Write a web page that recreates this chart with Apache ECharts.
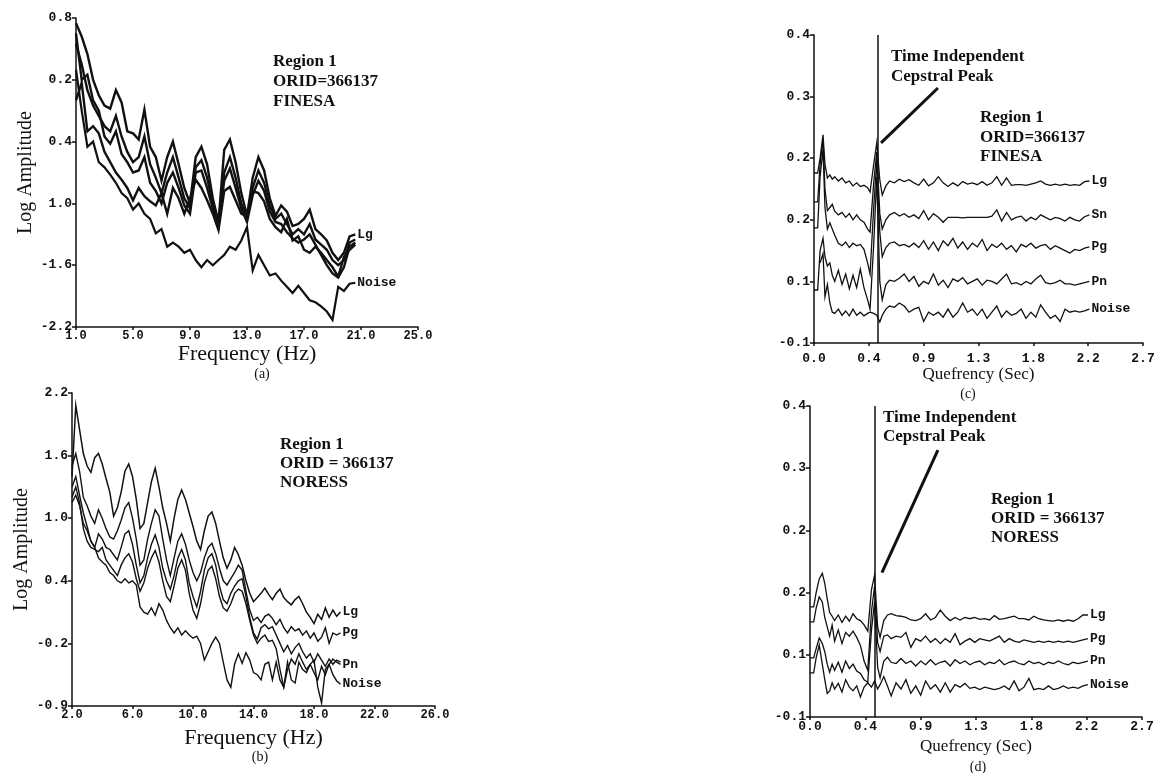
<!DOCTYPE html>
<html><head><meta charset="utf-8">
<script src="https://cdn.jsdelivr.net/npm/echarts@6/dist/echarts.min.js"></script>
<style>html,body{margin:0;padding:0;background:#fff}#c{width:1159px;height:773px}</style>
</head><body><div id="c"></div>
<script>
// ---------------- DATA ----------------
// Panel (a): FINESA spectra, Frequency (Hz) vs Log Amplitude
const freqA = [1.0,1.4,1.8,2.2,2.6,3.0,3.4,3.8,4.2,4.6,5.0,5.4,5.8,6.2,6.6,7.0,7.4,7.8,8.2,8.6,9.0,9.4,9.8,10.2,10.6,11.0,11.4,11.8,12.2,12.6,13.0,13.4,13.8,14.2,14.6,15.0,15.4,15.8,16.2,16.6,17.0,17.4,17.8,18.2,18.6,19.0,19.4,19.8,20.2,20.6];
const lgA = [0.75,0.62,0.45,0.20,0.05,-0.05,-0.08,0.10,-0.02,-0.30,-0.32,-0.38,-0.09,-0.45,-0.55,-0.78,-0.55,-0.40,-0.62,-0.85,-1.00,-0.55,-0.45,-0.62,-0.95,-1.18,-0.48,-0.38,-0.60,-0.90,-1.12,-0.75,-0.55,-0.68,-0.95,-1.12,-1.02,-1.08,-1.22,-1.20,-1.15,-1.06,-1.25,-1.30,-1.36,-1.48,-1.55,-1.48,-1.32,-1.30];
const snA = [0.55,0.35,0.10,-0.05,-0.15,-0.25,-0.30,-0.15,-0.35,-0.50,-0.60,-0.55,-0.35,-0.62,-0.75,-0.90,-0.70,-0.55,-0.75,-0.95,-1.05,-0.65,-0.58,-0.75,-1.00,-1.20,-0.70,-0.55,-0.75,-1.00,-1.15,-0.85,-0.68,-0.80,-1.02,-1.15,-1.10,-1.20,-1.30,-1.25,-1.30,-1.20,-1.35,-1.40,-1.45,-1.55,-1.60,-1.55,-1.38,-1.35];
const pgA = [0.65,0.20,0.25,0.00,-0.10,-0.35,-0.42,-0.30,-0.52,-0.60,-0.70,-0.68,-0.55,-0.80,-0.88,-1.00,-0.80,-0.70,-0.85,-1.02,-1.10,-0.70,-0.68,-0.85,-1.05,-1.22,-0.78,-0.66,-0.85,-1.05,-1.18,-0.92,-0.78,-0.88,-1.08,-1.18,-1.20,-1.28,-1.34,-1.38,-1.35,-1.30,-1.40,-1.50,-1.60,-1.68,-1.72,-1.62,-1.42,-1.38];
const pnA = [0.00,0.17,-0.30,-0.25,-0.32,-0.50,-0.60,-0.70,-0.77,-0.85,-0.97,-0.85,-0.93,-0.98,-1.02,-0.90,-1.10,-0.85,-0.95,-1.10,-0.95,-0.77,-0.85,-0.97,-1.10,-1.26,-0.88,-0.84,-0.97,-1.10,-1.13,-0.88,-0.90,-0.98,-1.15,-1.23,-1.28,-1.15,-1.36,-1.32,-1.45,-1.48,-1.42,-1.48,-1.55,-1.62,-1.71,-1.52,-1.45,-1.40];
const noiseA = [0.30,-0.10,-0.45,-0.40,-0.60,-0.65,-0.72,-0.80,-0.90,-0.95,-1.06,-1.00,-1.10,-1.15,-1.29,-1.25,-1.42,-1.38,-1.42,-1.48,-1.45,-1.55,-1.62,-1.55,-1.60,-1.55,-1.50,-1.42,-1.45,-1.36,-1.23,-1.65,-1.50,-1.60,-1.70,-1.68,-1.75,-1.81,-1.87,-1.80,-1.87,-1.94,-1.96,-2.00,-2.05,-2.13,-1.81,-1.85,-1.78,-1.77];
const xTicksA = [1,5,9,13,17,21,25];
const xLabelsA = ["1.0","5.0","9.0","13.0","17.0","21.0","25.0"];
const yTicksA = [-2.2,-1.6,-1.0,-0.4,0.2,0.8];
const yLabelsA = ["-2.2","-1.6","1.0","0.4","0.2","0.8"];

// Panel (b): NORESS spectra
const freqB = [2,2.25,2.5,2.75,3,3.25,3.5,3.75,4,4.25,4.5,4.75,5,5.25,5.5,5.75,6,6.25,6.5,6.75,7,7.25,7.5,7.75,8,8.25,8.5,8.75,9,9.25,9.5,9.75,10,10.25,10.5,10.75,11,11.25,11.5,11.75,12,12.25,12.5,12.75,13,13.25,13.5,13.75,14,14.25,14.5,14.75,15,15.25,15.5,15.75,16,16.25,16.5,16.75,17,17.25,17.5,17.75,18,18.25,18.5,18.75,19,19.25,19.5,19.75];
const lgB = [1.40,2.08,1.85,1.62,1.50,1.44,1.58,1.62,1.52,1.38,1.25,1.02,1.10,1.25,1.45,1.52,1.40,1.18,0.90,0.95,1.15,1.35,1.48,1.30,1.10,0.95,0.78,1.00,1.18,1.27,1.18,1.05,0.92,0.78,0.70,0.88,1.02,1.06,0.95,0.78,0.62,0.52,0.60,0.72,0.65,0.55,0.40,0.28,0.20,0.24,0.28,0.33,0.27,0.22,0.28,0.32,0.24,0.20,0.17,0.22,0.25,0.18,0.10,0.05,-0.01,0.08,0.03,0.14,0.05,0.12,0.06,0.10];
const pgB = [1.50,1.62,1.45,1.20,1.12,1.02,0.95,1.08,1.00,0.90,0.82,0.80,0.88,0.98,1.10,1.15,1.00,0.80,0.55,0.60,0.80,0.95,1.08,1.02,0.80,0.60,0.45,0.62,0.78,0.85,0.75,0.60,0.48,0.40,0.48,0.62,0.72,0.76,0.66,0.52,0.40,0.36,0.42,0.48,0.55,0.50,0.30,0.12,0.02,0.05,0.00,0.06,0.08,0.04,-0.02,0.03,-0.05,-0.10,-0.04,-0.08,-0.06,-0.12,-0.08,-0.15,-0.10,-0.18,-0.14,-0.05,-0.20,-0.10,-0.12,-0.10];
const snB = [1.30,1.40,1.22,1.05,0.92,0.78,0.72,0.85,0.80,0.72,0.70,0.65,0.60,0.72,0.85,0.88,0.75,0.55,0.38,0.45,0.62,0.75,0.84,0.72,0.52,0.40,0.32,0.45,0.62,0.70,0.60,0.38,0.25,0.15,0.30,0.50,0.62,0.66,0.55,0.35,0.22,0.18,0.28,0.35,0.40,0.42,0.25,0.05,-0.10,-0.16,-0.05,-0.02,-0.06,-0.04,-0.12,-0.20,-0.28,-0.22,-0.30,-0.24,-0.20,-0.28,-0.34,-0.30,-0.38,-0.30,-0.36,-0.42,-0.35,-0.40,-0.36,-0.38];
const pnB = [1.20,1.30,1.15,0.90,0.78,0.72,0.70,0.68,0.72,0.60,0.55,0.50,0.45,0.55,0.62,0.66,0.58,0.42,0.30,0.38,0.52,0.62,0.69,0.58,0.40,0.25,0.20,0.35,0.52,0.60,0.50,0.28,0.12,0.04,0.18,0.38,0.50,0.54,0.42,0.25,0.14,0.11,0.18,0.28,0.32,0.30,0.18,0.02,-0.12,-0.20,-0.15,-0.12,-0.18,-0.17,-0.25,-0.45,-0.62,-0.45,-0.35,-0.40,-0.30,-0.38,-0.45,-0.40,-0.48,-0.55,-0.42,-0.50,-0.40,-0.35,-0.38,-0.40];
const noiseB = [1.15,1.22,1.12,0.95,0.88,0.78,0.72,0.62,0.58,0.55,0.48,0.45,0.40,0.38,0.42,0.38,0.40,0.36,0.15,0.10,0.08,0.14,0.07,0.18,0.12,0.02,-0.05,-0.10,-0.05,-0.12,-0.08,-0.12,-0.15,-0.13,-0.20,-0.36,-0.28,-0.20,-0.14,-0.20,-0.38,-0.55,-0.62,-0.40,-0.30,-0.39,-0.29,-0.36,-0.48,-0.50,-0.55,-0.40,-0.38,-0.55,-0.38,-0.55,-0.62,-0.38,-0.55,-0.58,-0.38,-0.45,-0.48,-0.40,-0.36,-0.62,-0.77,-0.45,-0.40,-0.50,-0.56,-0.59];
const xTicksB = [2,6,10,14,18,22,26];
const xLabelsB = ["2.0","6.0","10.0","14.0","18.0","22.0","26.0"];
const yTicksB = [-0.8,-0.2,0.4,1.0,1.6,2.2];
const yLabelsB = ["-0.9","-0.2","0.4","1.0","1.6","2.2"];

// Panel (c): FINESA cepstra, Quefrency (Sec)
const quefC = [0,0.03,0.05,0.074,0.09,0.11,0.13,0.15,0.17,0.20,0.23,0.26,0.29,0.32,0.35,0.38,0.41,0.44,0.46,0.49,0.515,0.54,0.56,0.59,0.62,0.66,0.70,0.74,0.78,0.82,0.86,0.90,0.94,0.98,1.02,1.06,1.10,1.14,1.18,1.22,1.26,1.30,1.34,1.38,1.42,1.46,1.50,1.54,1.58,1.62,1.66,1.70,1.74,1.78,1.82,1.86,1.90,1.94,1.98,2.02,2.06,2.10,2.14,2.18,2.22,2.26];
const lgC = [0.176,0.176,0.20,0.238,0.19,0.168,0.173,0.166,0.170,0.163,0.168,0.160,0.163,0.155,0.160,0.154,0.156,0.152,0.145,0.19,0.225,0.165,0.140,0.155,0.163,0.160,0.166,0.162,0.165,0.160,0.156,0.166,0.155,0.160,0.170,0.160,0.154,0.160,0.155,0.162,0.158,0.160,0.157,0.162,0.156,0.160,0.170,0.156,0.168,0.156,0.157,0.157,0.156,0.158,0.160,0.163,0.158,0.156,0.158,0.156,0.158,0.156,0.157,0.156,0.162,0.163];
const snC = [0.129,0.129,0.19,0.232,0.15,0.115,0.12,0.125,0.114,0.108,0.112,0.104,0.110,0.100,0.108,0.100,0.096,0.085,0.080,0.16,0.21,0.11,0.085,0.10,0.108,0.112,0.106,0.110,0.104,0.108,0.102,0.115,0.100,0.110,0.104,0.096,0.104,0.104,0.104,0.103,0.104,0.104,0.104,0.104,0.104,0.106,0.116,0.098,0.112,0.100,0.104,0.106,0.098,0.104,0.100,0.108,0.104,0.100,0.104,0.102,0.098,0.104,0.100,0.098,0.105,0.108];
const pgC = [0.087,0.087,0.17,0.215,0.12,0.085,0.095,0.085,0.075,0.062,0.058,0.064,0.055,0.062,0.058,0.060,0.052,0.030,0.012,0.12,0.195,0.08,0.040,0.055,0.062,0.064,0.058,0.060,0.056,0.062,0.055,0.066,0.052,0.064,0.050,0.066,0.058,0.070,0.054,0.064,0.052,0.062,0.056,0.068,0.050,0.060,0.055,0.062,0.052,0.058,0.048,0.060,0.056,0.062,0.054,0.058,0.060,0.052,0.058,0.054,0.050,0.046,0.052,0.050,0.054,0.056];
const pnC = [-0.014,-0.014,0.05,0.07,0.04,0.025,0.03,0.010,0.0,0.018,-0.005,0.012,-0.012,0.010,-0.010,0.020,-0.010,-0.030,-0.045,0.06,0.17,0.0,-0.03,-0.005,0.002,0.0,0.005,0.012,0.0,0.008,-0.008,0.0,-0.004,0.012,-0.006,0.002,-0.010,0.004,0.0,0.006,-0.004,0.0,0.004,-0.006,0.002,0.0,-0.004,0.004,0.012,-0.004,-0.002,-0.006,0.0,-0.004,0.004,0.010,-0.002,-0.004,-0.002,0.002,-0.004,-0.004,-0.006,-0.004,-0.002,0.0];
const noiseC = [null,null,0.03,0.045,-0.025,-0.005,-0.035,-0.05,-0.052,-0.045,-0.055,-0.048,-0.056,-0.045,-0.055,-0.05,-0.056,-0.052,-0.05,-0.052,-0.055,-0.066,-0.055,-0.045,-0.040,-0.042,-0.035,-0.04,-0.05,-0.045,-0.042,-0.065,-0.05,-0.055,-0.05,-0.058,-0.045,-0.058,-0.05,-0.035,-0.05,-0.045,-0.055,-0.045,-0.06,-0.05,-0.04,-0.058,-0.048,-0.055,-0.052,-0.045,-0.06,-0.05,-0.058,-0.038,-0.05,-0.06,-0.055,-0.065,-0.045,-0.05,-0.048,-0.05,-0.048,-0.045];

// Panel (d): NORESS cepstra
const quefD = [0,0.03,0.05,0.075,0.10,0.12,0.14,0.16,0.18,0.20,0.23,0.26,0.29,0.32,0.35,0.38,0.41,0.44,0.47,0.50,0.525,0.55,0.57,0.60,0.63,0.66,0.70,0.74,0.78,0.82,0.86,0.90,0.94,0.98,1.02,1.06,1.10,1.14,1.18,1.22,1.26,1.30,1.34,1.38,1.42,1.46,1.50,1.54,1.58,1.62,1.66,1.70,1.74,1.78,1.82,1.86,1.90,1.94,1.98,2.02,2.06,2.10,2.14,2.18,2.22,2.26];
const lgD = [0.077,0.077,0.10,0.122,0.131,0.115,0.09,0.068,0.062,0.055,0.064,0.052,0.062,0.054,0.066,0.058,0.055,0.048,0.038,0.105,0.128,0.045,0.028,0.055,0.064,0.066,0.063,0.062,0.060,0.056,0.055,0.058,0.066,0.056,0.060,0.072,0.062,0.055,0.060,0.056,0.060,0.058,0.060,0.057,0.058,0.056,0.063,0.057,0.058,0.060,0.062,0.058,0.058,0.056,0.062,0.058,0.056,0.055,0.054,0.056,0.054,0.056,0.054,0.058,0.064,0.064];
const pgD = [0.053,0.053,0.075,0.093,0.085,0.06,0.045,0.030,0.048,0.022,0.040,0.018,0.036,0.030,0.038,0.028,0.015,-0.010,-0.025,0.07,0.11,0.020,0.005,0.030,0.032,0.026,0.030,0.028,0.036,0.012,0.026,0.022,0.030,0.020,0.026,0.018,0.026,0.020,0.034,0.016,0.022,0.026,0.020,0.026,0.024,0.022,0.026,0.030,0.020,0.026,0.022,0.020,0.024,0.022,0.020,0.022,0.020,0.022,0.020,0.022,0.020,0.022,0.020,0.022,0.024,0.026];
const pnD = [-0.005,-0.005,0.010,0.027,0.018,0.005,-0.015,-0.028,-0.015,-0.025,-0.012,-0.028,-0.010,-0.022,-0.015,-0.026,-0.030,-0.040,-0.044,0.040,0.085,-0.020,-0.037,-0.010,-0.004,-0.012,-0.014,-0.006,-0.014,-0.010,-0.018,-0.010,-0.016,-0.008,-0.016,-0.012,-0.010,-0.018,-0.008,-0.014,-0.010,-0.016,-0.012,-0.010,-0.016,-0.012,-0.014,-0.008,-0.016,-0.012,-0.010,-0.014,-0.016,-0.010,-0.014,-0.012,-0.016,-0.012,-0.014,-0.010,-0.014,-0.016,-0.012,-0.014,-0.012,-0.010];
const noiseD = [-0.029,-0.029,-0.005,0.016,-0.015,-0.040,-0.062,-0.058,-0.045,-0.055,-0.046,-0.060,-0.040,-0.052,-0.058,-0.050,-0.068,-0.052,-0.045,-0.052,-0.042,-0.055,-0.048,-0.035,-0.050,-0.066,-0.045,-0.055,-0.040,-0.062,-0.050,-0.065,-0.042,-0.055,-0.048,-0.060,-0.045,-0.060,-0.048,-0.052,-0.046,-0.054,-0.052,-0.056,-0.052,-0.054,-0.056,-0.054,-0.050,-0.056,-0.042,-0.058,-0.052,-0.038,-0.056,-0.054,-0.056,-0.050,-0.056,-0.054,-0.050,-0.054,-0.052,-0.054,-0.050,-0.048];

const xTicksQ = [0,0.45,0.9,1.35,1.8,2.25,2.7];
const xLabelsQ = ["0.0","0.4","0.9","1.3","1.8","2.2","2.7"];
const yTicksQ = [-0.1,0,0.1,0.2,0.3,0.4];
const yLabelsQ = ["-0.1","0.1","0.2","0.2","0.3","0.4"];

// annotation anchors (data units)
const peakC = 0.515, peakD = 0.525;
const pointerC = [[1.017,0.314],[0.55,0.225]];
const pointerD = [[1.04,0.329],[0.585,0.132]];

// ---------------- CHART ----------------
const INK = '#111';
const MONO = '"Liberation Mono","DejaVu Sans Mono",monospace';
const SERIF = '"Liberation Serif","DejaVu Serif",serif';

function pairs(xs, ys){ const out=[]; for(let i=0;i<xs.length;i++){ if(ys[i]!==null) out.push([xs[i], ys[i]]);} return out; }
function labelMap(vals, labs){ return v => { for (let i=0;i<vals.length;i++) if (Math.abs(v-vals[i])<1e-6) return labs[i]; return ''; }; }

function xAxisCfg(gi, min, max, ticks, labels, name, nameGap, margin, fs, nameSize){
  return { gridIndex:gi, type:'value', min, max, name, nameLocation:'middle', nameGap,
    nameTextStyle:{fontFamily:SERIF, fontSize:nameSize, color:INK},
    axisLine:{show:true, onZero:false, lineStyle:{color:INK, width:1.5}},
    axisTick:{show:true, length:3, customValues:ticks, lineStyle:{color:INK, width:1.5}},
    axisLabel:{show:true, customValues:ticks, formatter:labelMap(ticks, labels), fontFamily:MONO, fontWeight:'bold', fontSize:fs, color:INK, margin},
    splitLine:{show:false} };
}
function yAxisCfg(gi, min, max, ticks, labels, name, nameGap, nameSize){
  return { gridIndex:gi, type:'value', min, max, name: name||'', nameLocation:'middle', nameGap,
    nameTextStyle:{fontFamily:SERIF, fontSize:nameSize||20, color:INK},
    axisLine:{show:true, onZero:false, lineStyle:{color:INK, width:1.5}},
    axisTick:{show:true, length:4, customValues:ticks, lineStyle:{color:INK, width:1.5}},
    axisLabel:{show:true, customValues:ticks, formatter:labelMap(ticks, labels), fontFamily:MONO, fontWeight:'bold', fontSize:13, color:INK, margin:4},
    splitLine:{show:false} };
}
function line(name, idx, xs, ys, width, showLabel, markLine){
  const s = { name, type:'line', xAxisIndex:idx, yAxisIndex:idx, data:pairs(xs, ys),
    symbol:'none', showSymbol:false, silent:true, animation:false,
    lineStyle:{color:INK, width, join:'miter'},
    endLabel: showLabel ? {show:true, formatter:name, fontFamily:MONO, fontWeight:'bold', fontSize:13, color:INK, distance:2} : {show:false} };
  if (markLine) s.markLine = markLine;
  return s;
}
function peakMarks(xv, ptr){
  return { silent:true, symbol:'none', animation:false, label:{show:false},
    lineStyle:{color:INK, width:1.5, type:'solid'},
    data:[ {xAxis:xv}, [ {coord:ptr[0], lineStyle:{width:3, color:INK, type:'solid'}}, {coord:ptr[1]} ] ] };
}

const option = {
  backgroundColor:'#fff',
  animation:false,
  grid:[
    {left:76, top:18, width:342, height:309},
    {left:72, top:393, width:363, height:313},
    {left:814, top:35, width:329, height:308},
    {left:810, top:406, width:332, height:311}
  ],
  xAxis:[
    xAxisCfg(0, 1, 25, xTicksA, xLabelsA, 'Frequency (Hz)', 14, 3, 12, 22),
    xAxisCfg(1, 2, 26, xTicksB, xLabelsB, 'Frequency (Hz)', 21, 3, 12, 22),
    xAxisCfg(2, 0, 2.7, xTicksQ, xLabelsQ, 'Quefrency (Sec)', 23, 9, 13, 17),
    xAxisCfg(3, 0, 2.7, xTicksQ, xLabelsQ, 'Quefrency (Sec)', 21, 3, 13, 17)
  ],
  yAxis:[
    yAxisCfg(0, -2.2, 0.8, yTicksA, yLabelsA, 'Log Amplitude', 40, 20),
    yAxisCfg(1, -0.8, 2.2, yTicksB, yLabelsB, 'Log Amplitude', 40, 20),
    yAxisCfg(2, -0.1, 0.4, yTicksQ, yLabelsQ, '', 0),
    yAxisCfg(3, -0.1, 0.4, yTicksQ, yLabelsQ, '', 0)
  ],
  series:[
    line('Lg', 0, freqA, lgA, 2.4, true),
    line('Sn', 0, freqA, snA, 2.4, false),
    line('Pg', 0, freqA, pgA, 2.4, false),
    line('Pn', 0, freqA, pnA, 2.4, false),
    line('Noise', 0, freqA, noiseA, 2.2, true),

    line('Lg', 1, freqB, lgB, 1.5, true),
    line('Pg', 1, freqB, pgB, 1.4, true),
    line('Sn', 1, freqB, snB, 1.4, false),
    line('Pn', 1, freqB, pnB, 1.4, true),
    line('Noise', 1, freqB, noiseB, 1.4, true),

    line('Lg', 2, quefC, lgC, 1.3, true, peakMarks(peakC, pointerC)),
    line('Sn', 2, quefC, snC, 1.3, true),
    line('Pg', 2, quefC, pgC, 1.3, true),
    line('Pn', 2, quefC, pnC, 1.3, true),
    line('Noise', 2, quefC, noiseC, 1.3, true),

    line('Lg', 3, quefD, lgD, 1.3, true, peakMarks(peakD, pointerD)),
    line('Pg', 3, quefD, pgD, 1.3, true),
    line('Pn', 3, quefD, pnD, 1.3, true),
    line('Noise', 3, quefD, noiseD, 1.3, true)
  ],
  graphic:[
    {type:'text', x:273, y:52, style:{text:'Region 1\nORID=366137\nFINESA', fontFamily:SERIF, fontWeight:'bold', fontSize:17, lineHeight:20, fill:INK, verticalAlign:'top'}},
    {type:'text', x:280, y:435, style:{text:'Region 1\nORID = 366137\nNORESS', fontFamily:SERIF, fontWeight:'bold', fontSize:17, lineHeight:19, fill:INK, verticalAlign:'top'}},
    {type:'text', x:980, y:108, style:{text:'Region 1\nORID=366137\nFINESA', fontFamily:SERIF, fontWeight:'bold', fontSize:17, lineHeight:19.5, fill:INK, verticalAlign:'top'}},
    {type:'text', x:991, y:490, style:{text:'Region 1\nORID = 366137\nNORESS', fontFamily:SERIF, fontWeight:'bold', fontSize:17, lineHeight:19, fill:INK, verticalAlign:'top'}},
    {type:'text', x:891, y:47, style:{text:'Time Independent\nCepstral Peak', fontFamily:SERIF, fontWeight:'bold', fontSize:17, lineHeight:20, fill:INK, verticalAlign:'top'}},
    {type:'text', x:883, y:408, style:{text:'Time Independent\nCepstral Peak', fontFamily:SERIF, fontWeight:'bold', fontSize:17, lineHeight:19, fill:INK, verticalAlign:'top'}},
    {type:'text', x:262, y:374, style:{text:'(a)', fontFamily:SERIF, fontSize:14, fill:INK, align:'center', verticalAlign:'middle'}},
    {type:'text', x:260, y:757, style:{text:'(b)', fontFamily:SERIF, fontSize:14, fill:INK, align:'center', verticalAlign:'middle'}},
    {type:'text', x:968, y:394, style:{text:'(c)', fontFamily:SERIF, fontSize:14, fill:INK, align:'center', verticalAlign:'middle'}},
    {type:'text', x:978, y:767, style:{text:'(d)', fontFamily:SERIF, fontSize:14, fill:INK, align:'center', verticalAlign:'middle'}}
  ]
};
const chart = echarts.init(document.getElementById('c'), null, {renderer:'canvas'});
chart.setOption(option);
</script>
</body></html>
